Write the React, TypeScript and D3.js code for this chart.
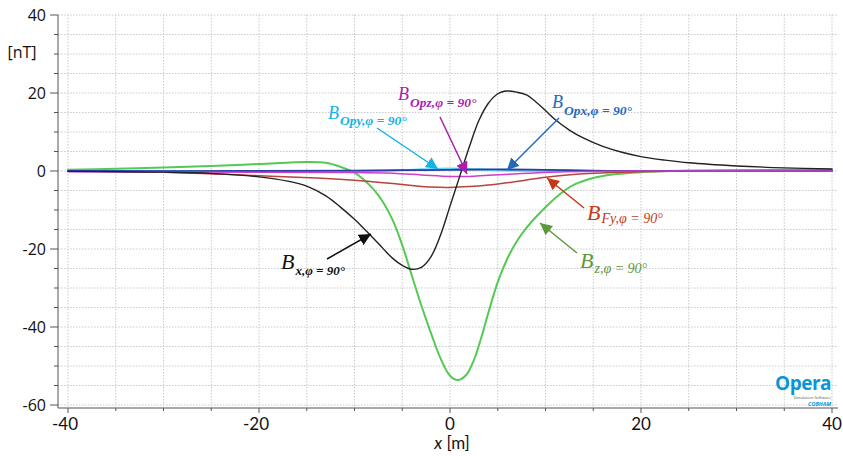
import React from "react";
import * as d3 from "d3";

// ---------- data ----------
const bxX = [-40, -35, -30, -25, -20, -17, -15, -13, -11.5, -10, -9, -8, -7, -6, -5, -4, -3, -2, -1, 0, 1, 2, 3, 4, 5, 5.8, 7, 8, 9, 10, 11, 12.5, 14, 16, 18, 20, 22.5, 25, 30, 35, 40];
const bxY = [-0.1, -0.2, -0.3, -0.6, -1.5, -2.6, -3.9, -6.4, -9.2, -12.4, -14.8, -17.3, -19.9, -22.4, -24.2, -25.2, -24.7, -22, -16.5, -9, -1.5, 6, 12.8, 17.3, 19.8, 20.5, 20.2, 19.5, 17.7, 15.5, 13.2, 10.5, 8.4, 6.3, 4.8, 3.7, 2.8, 2.1, 1.3, 0.8, 0.5];

const bzX = [-40, -35, -30, -25, -20, -15, -13, -11.5, -10, -9, -8, -7, -6, -5, -4, -3, -2, -1, 0, 0.8, 1.7, 2.5, 3.3, 4, 5, 6, 7, 8, 9, 10, 11, 12, 13, 15, 17, 20, 25, 30, 35, 40];
const bzY = [0.3, 0.6, 0.9, 1.3, 1.8, 2.3, 2.1, 1.1, -0.4, -2.3, -4.7, -8, -12.6, -19, -26.8, -34.5, -41.5, -48, -52.5, -53.6, -52.3, -48.5, -42.5, -36.5, -28.5, -22.5, -18, -14.6, -11.8, -9.3, -7, -5, -3.5, -1.8, -0.9, -0.3, 0.1, 0.2, 0.3, 0.3];

const bfyX = [-40, -30, -20, -14, -10, -7, -4, -2, 0, 2, 4, 6, 8, 10, 12, 15, 20, 25, 30, 40];
const bfyY = [0, -0.3, -1.2, -1.8, -2.4, -3.0, -3.7, -4.1, -4.2, -4.0, -3.6, -3.0, -2.3, -1.6, -1.1, -0.6, -0.2, 0, 0.1, 0.1];

const bopzX = [-40, -20, -10, -6, -3, 0, 2, 4, 8, 12, 20, 40];
const bopzY = [-0.2, -0.3, -0.4, -0.6, -1.0, -1.4, -1.4, -1.1, -0.6, -0.2, 0, 0];

const bopxX = [-40, -20, -10, -5, 0, 5, 10, 15, 20, 40];
const bopxY = [0, 0, 0.1, 0.2, 0.3, 0.4, 0.3, 0.1, 0, 0];

const bopyX = [-40, -20, -10, -5, -3, 0, 3, 5, 10, 20, 40];
const bopyY = [0, 0, 0, 0.2, 0.4, 0.6, 0.4, 0.2, 0, 0, 0];

const xTickLabels = [-40, -20, 0, 20, 40];
const yTickLabels = [-60, -40, -20, 0, 20, 40];

// ---------- layout ----------
const W = 843;
const H = 456;
const xS = d3.scaleLinear().domain([-40, 40]).range([68, 832]);
const yS = d3.scaleLinear().domain([-60, 40]).range([405, 15]);
const plotLeft = 58;
const plotRight = 838;
const axisY = 408;

type Series = { xs: number[]; ys: number[]; color: string; width: number };
const series: Series[] = [
  { xs: bzX, ys: bzY, color: "#55c955", width: 2 },
  { xs: bfyX, ys: bfyY, color: "#b8443a", width: 1.5 },
  { xs: bopyX, ys: bopyY, color: "#5fd6ea", width: 2.2 },
  { xs: bopxX, ys: bopxY, color: "#2a3aa8", width: 1.8 },
  { xs: bopzX, ys: bopzY, color: "#cc3fcc", width: 1.5 },
  { xs: bxX, ys: bxY, color: "#222222", width: 1.4 },
];

const lineGen = d3
  .line<[number, number]>()
  .x((d) => xS(d[0]))
  .y((d) => yS(d[1]))
  .curve(d3.curveCatmullRom.alpha(0.5));

type Ann = {
  id: string;
  sub: string;
  color: string;
  bx: number;
  by: number;
  bSize: number;
  subSize: number;
  subDy: number;
  bold: boolean;
  from: [number, number];
  to: [number, number];
};

const anns: Ann[] = [
  { id: "opy", sub: "Opy,φ = 90°", color: "#12b4e6", bx: 328, by: 119, bSize: 18, subSize: 13.5, subDy: 6, bold: true, from: [377, 128], to: [438, 169] },
  { id: "opz", sub: "Opz,φ = 90°", color: "#a81fb0", bx: 398, by: 100, bSize: 18, subSize: 13.5, subDy: 7, bold: true, from: [440, 117], to: [467, 174] },
  { id: "opx", sub: "Opx,φ = 90°", color: "#2269bd", bx: 552, by: 108, bSize: 18, subSize: 13.5, subDy: 7, bold: true, from: [559, 118], to: [507, 170] },
  { id: "fy", sub: "Fy,φ = 90°", color: "#c43a16", bx: 587, by: 220, bSize: 22, subSize: 14, subDy: 3, bold: false, from: [584, 208], to: [547, 178] },
  { id: "z", sub: "z,φ = 90°", color: "#5a9a3c", bx: 580, by: 268, bSize: 22, subSize: 14, subDy: 5, bold: false, from: [577, 253], to: [540, 223] },
  { id: "x", sub: "x,φ = 90°", color: "#111111", bx: 281, by: 269, bSize: 22, subSize: 13, subDy: 6, bold: true, from: [327, 259], to: [371, 234] },
];

const gridX = d3.range(-40, 40.001, 5);
const gridY = d3.range(-60, 40.001, 5);

export default function App() {
  return (
    <svg
      width={W}
      height={H}
      style={{ position: "absolute", left: 0, top: 0, background: "#fff" }}
    >
      <defs>
        {anns.map((a) => (
          <marker
            key={a.id}
            id={`ah-${a.id}`}
            markerUnits="userSpaceOnUse"
            markerWidth={14}
            markerHeight={12}
            refX={12}
            refY={6}
            orient="auto"
          >
            <path d="M0,0 L12,6 L0,12 Z" fill={a.color} />
          </marker>
        ))}
      </defs>

      {/* grid */}
      <g stroke="#c9c9c9" strokeWidth={1} strokeDasharray="1.5,1.5">
        {gridX.map((v) => (
          <line key={`gx${v}`} x1={xS(v)} x2={xS(v)} y1={yS(40)} y2={axisY} />
        ))}
        {gridY.map((v) => (
          <line key={`gy${v}`} x1={plotLeft} x2={plotRight} y1={yS(v)} y2={yS(v)} />
        ))}
      </g>

      {/* axes */}
      <g stroke="#555" strokeWidth={1}>
        <line x1={plotLeft} x2={plotLeft} y1={yS(40)} y2={axisY} />
        <line x1={plotLeft} x2={plotRight} y1={axisY} y2={axisY} />
        {gridY.map((v) => (
          <line
            key={`ty${v}`}
            x1={yTickLabels.includes(v) ? 50 : 54}
            x2={plotLeft}
            y1={yS(v)}
            y2={yS(v)}
          />
        ))}
        {gridX.map((v) => (
          <line
            key={`tx${v}`}
            x1={xS(v)}
            x2={xS(v)}
            y1={axisY}
            y2={xTickLabels.includes(v) ? axisY + 5 : axisY + 3}
          />
        ))}
      </g>

      {/* tick labels */}
      <g fontFamily="'Open Sans', sans-serif" fontSize={16} fill="#111" textAnchor="end">
        {yTickLabels.map((v) => (
          <text key={`yl${v}`} x={46} y={yS(v) + 6}>
            {v}
          </text>
        ))}
      </g>
      <text x={22} y={58} fontFamily="'Open Sans', sans-serif" fontSize={16} fill="#111" textAnchor="middle">
        [nT]
      </text>
      <g fontFamily="Lato, sans-serif" fontSize={17} fill="#111" textAnchor="middle">
        {xTickLabels.map((v) => (
          <text key={`xl${v}`} x={xS(v) - (v < 0 ? 3 : 0)} y={430}>
            {v}
          </text>
        ))}
      </g>
      <text x={452} y={449} fontFamily="Lato, sans-serif" fontSize={17} fill="#111" textAnchor="middle">
        <tspan fontStyle="italic">x</tspan> [m]
      </text>

      {/* series */}
      <g fill="none" strokeLinejoin="round" strokeLinecap="round">
        {series.map((s, i) => (
          <path
            key={i}
            d={lineGen(s.xs.map((x, j) => [x, s.ys[j]] as [number, number])) || ""}
            stroke={s.color}
            strokeWidth={s.width}
          />
        ))}
      </g>

      {/* annotations */}
      {anns.map((a) => (
        <g key={a.id}>
          <line
            x1={a.from[0]}
            y1={a.from[1]}
            x2={a.to[0]}
            y2={a.to[1]}
            stroke={a.color}
            strokeWidth={1.5}
            markerEnd={`url(#ah-${a.id})`}
          />
          <text x={a.bx} y={a.by} fill={a.color} fontFamily="'Liberation Serif', serif" fontStyle="italic">
            <tspan fontSize={a.bSize}>B</tspan>
            <tspan fontSize={a.subSize} fontWeight={a.bold ? "bold" : "normal"} dy={a.subDy} dx={1}>
              {a.sub}
            </tspan>
          </text>
        </g>
      ))}

      {/* logo */}
      <g textAnchor="end">
        <text x={831} y={390} fontFamily="'Open Sans', sans-serif" fontWeight="bold" fontSize={19} fill="#0a96d6" letterSpacing={-0.5}>
          Opera
        </text>
        <text x={831} y={399} fontFamily="'Open Sans', sans-serif" fontSize={4} fill="#555">
          Simulation Software
        </text>
        <text x={831} y={405.5} fontFamily="'Open Sans', sans-serif" fontStyle="italic" fontWeight="bold" fontSize={5.5} fill="#0a96d6">
          COBHAM
        </text>
      </g>
    </svg>
  );
}
